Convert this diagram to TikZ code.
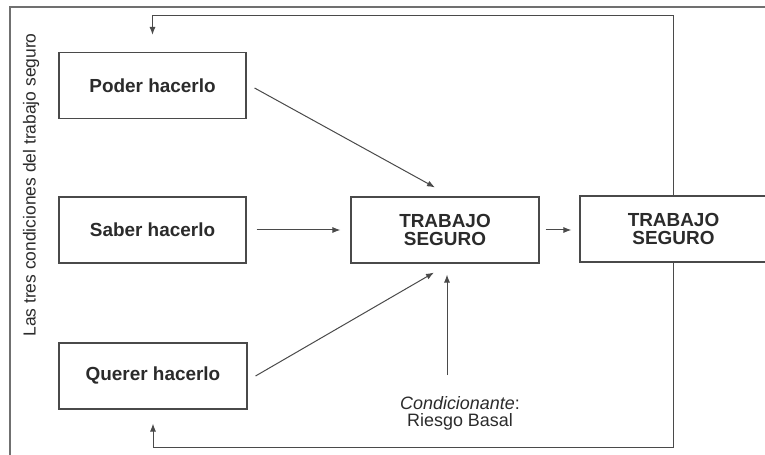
\documentclass[tikz,border=0pt]{standalone}
\usepackage{fontspec}
\setmainfont{Liberation Sans}
\usetikzlibrary{arrows.meta,calc}
\definecolor{ink}{HTML}{2B2B2B}
\definecolor{edge}{HTML}{4A4A4A}
\definecolor{rule}{HTML}{707070}
\begin{document}
\begin{tikzpicture}[x=1bp,y=-1bp,
  box/.style={draw=edge,line width=1.1bp,minimum height=66bp,inner sep=0pt,
    text=ink,font=\fontsize{19}{17.3}\selectfont\bfseries,align=center},
  arr/.style={draw=edge,line width=1bp,-{Latex[length=8bp,width=6bp]}},
  frame/.style={draw=rule,line width=1.2bp},
  note/.style={text=ink,font=\fontsize{18}{17}\selectfont,align=center,inner sep=0pt}]
\useasboundingbox (0,0) rectangle (765,455);
\clip (0,0) rectangle (765,455);
\fill[white] (0,0) rectangle (765,455);

% outer frame (open on the right and bottom)
\draw[frame] (10,455) -- (10,7) -- (766,7);

% the three conditions
\node[box,minimum width=187bp] (poder)  at (152.5,85.5) {Poder hacerlo};
\node[box,minimum width=187bp] (saber)  at (152.5,230)  {Saber hacerlo};
\node[box,minimum width=188bp] (querer) at (153,376)    {Querer hacerlo};

% results
\node[box,minimum width=188bp] (ts1) at (445,230)   {TRABAJO\\SEGURO};
\node[box,minimum width=187bp] (ts2) at (673.5,229) {TRABAJO\\SEGURO};

% side label
\node[note,rotate=90,font=\fontsize{17.5}{17}\selectfont] (lbl) at (31,185)
  {Las tres condiciones del trabajo seguro};

% conditioning factor
\node[note] (cond) at (460,413) {\textit{Condicionante}:\\Riesgo Basal};
\coordinate (cbase) at (447,375);

% converging arrows
\draw[arr] ($(poder.east)+(8,2.5)$) -- ($(ts1.north)+(-10,-9)$);
\draw[arr] ($(saber.east)+(10,0)$) -- ($(ts1.west)+(-10,0)$);
\draw[arr] ($(querer.east)+(8,0)$) -- ($(ts1.south)+(-11,9)$);
\draw[arr] (cbase) -- ($(ts1.south -| cbase)+(0,11)$);
\draw[arr] ($(ts1.east)+(6,0)$) -- ($(ts2.west)+(-8,1)$);

% feedback loops
\draw[arr] (ts2.north) -- ++(0,-180) -| ($(poder.north)+(0,-17)$);
\draw[arr] (ts2.south) -- ++(0,185) -| ($(querer.south)+(0,14)$);
\end{tikzpicture}
\end{document}
